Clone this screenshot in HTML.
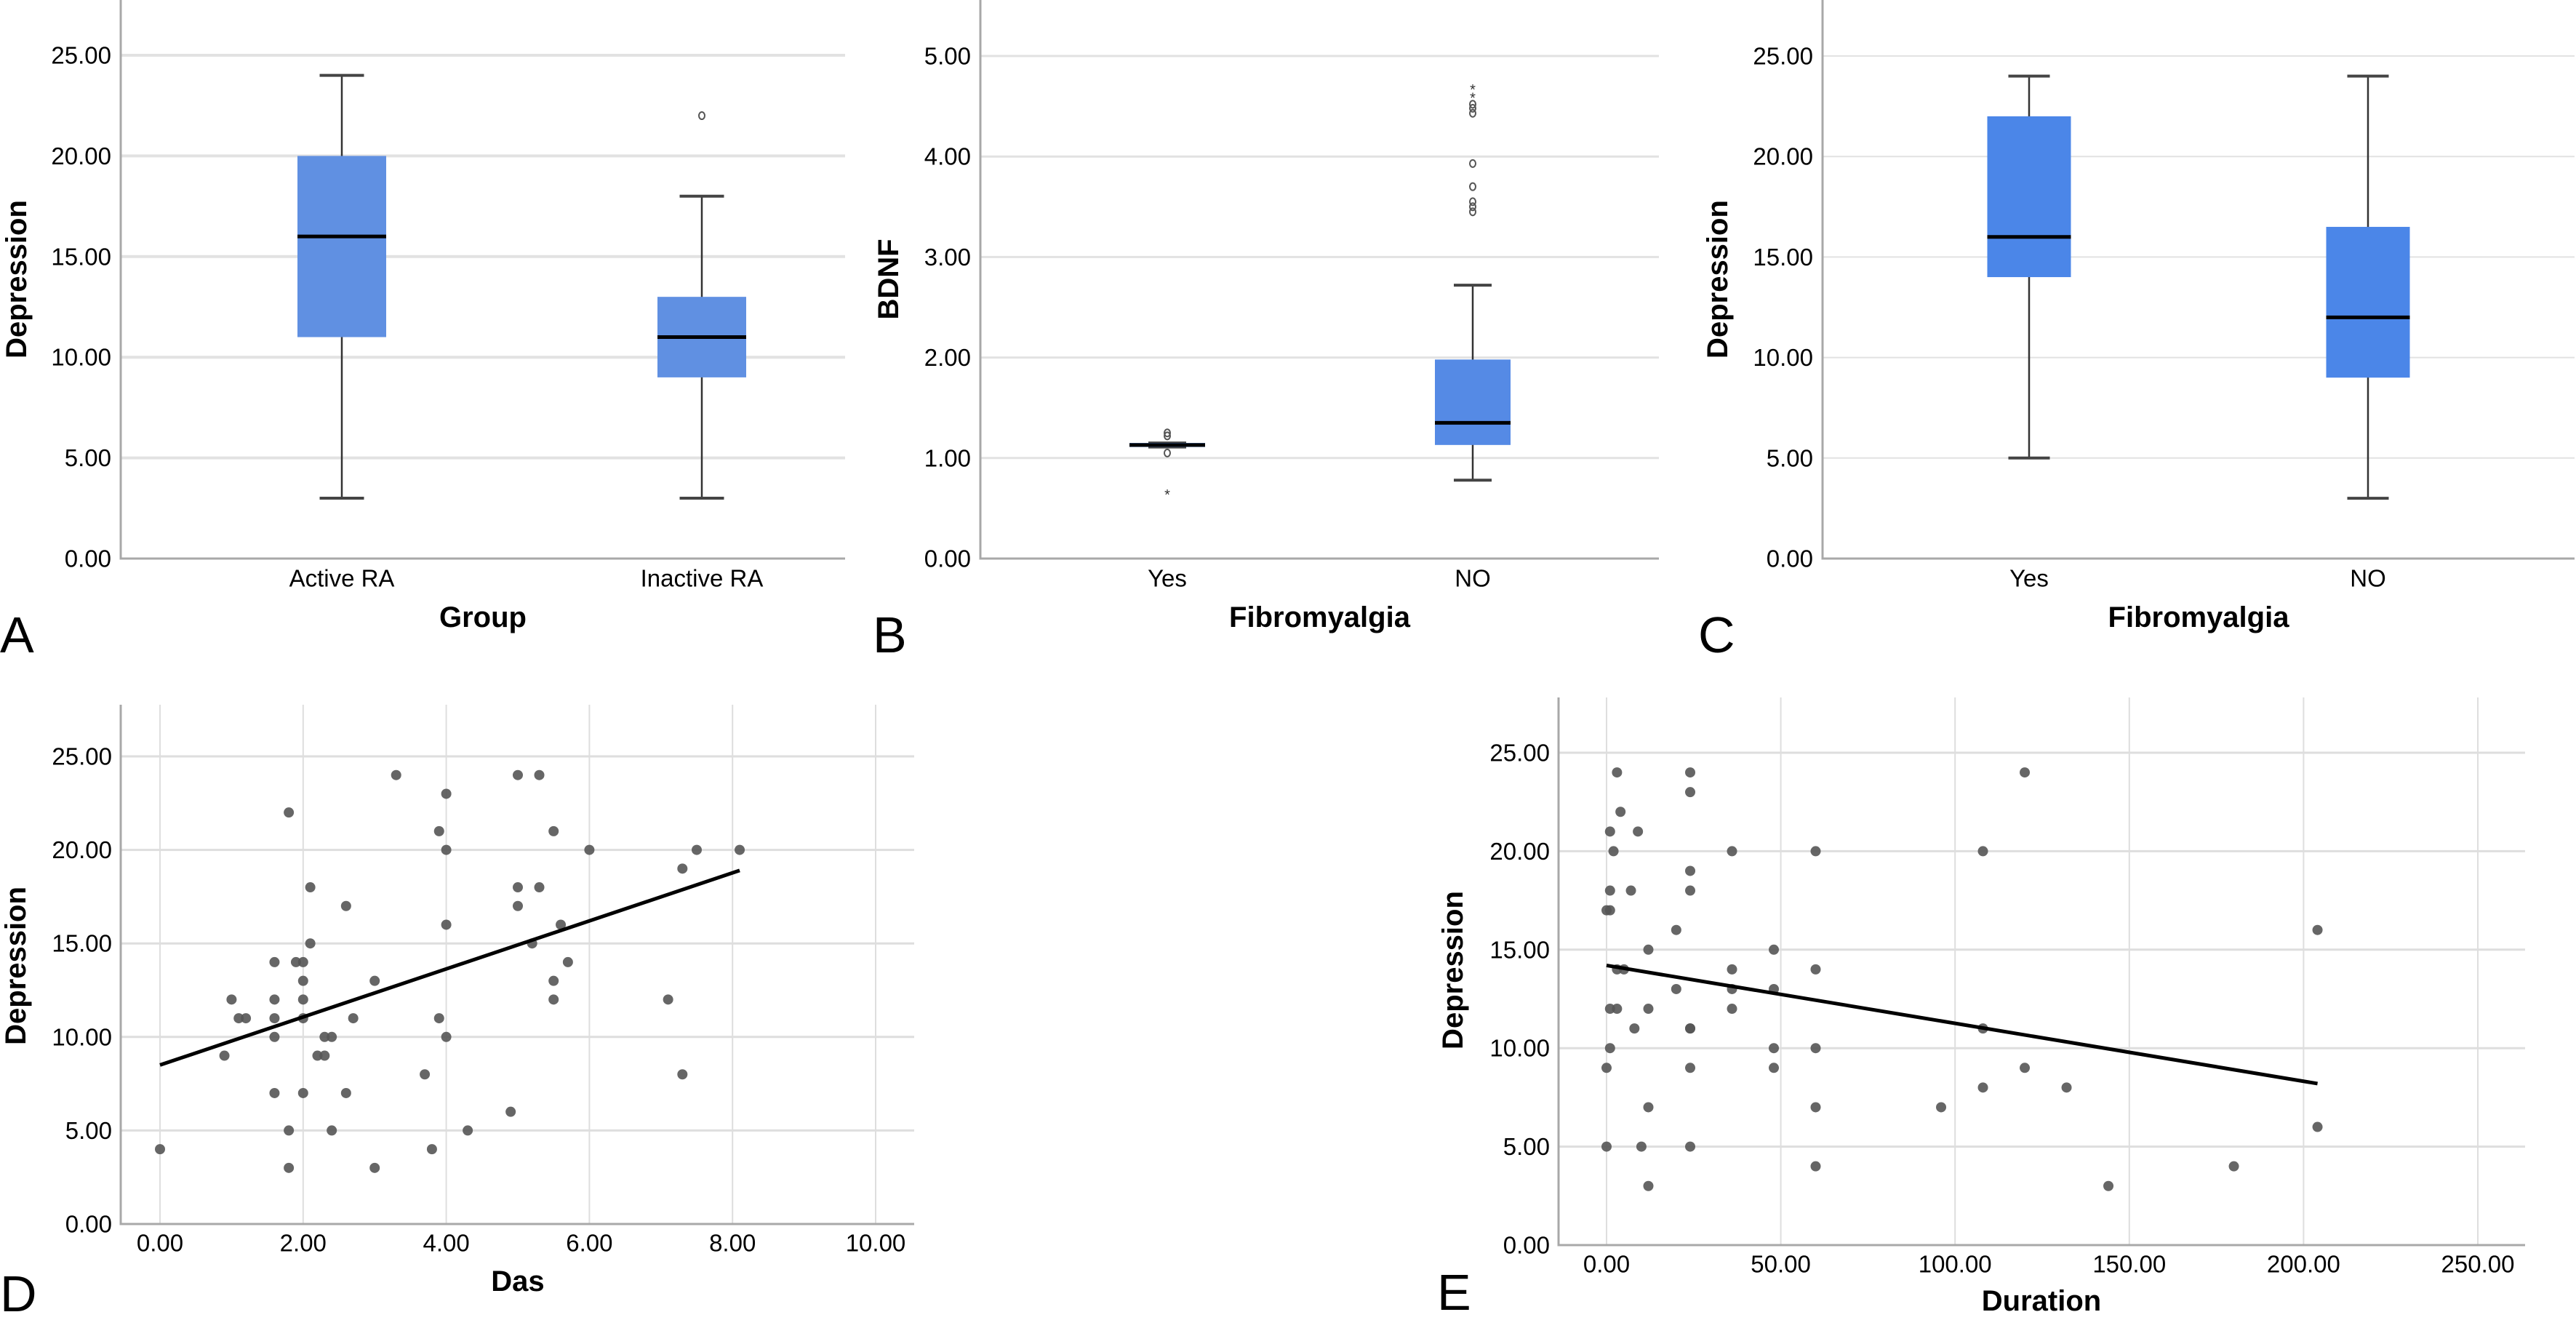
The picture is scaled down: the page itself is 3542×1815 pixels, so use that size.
<!DOCTYPE html>
<html><head><meta charset="utf-8">
<style>
html,body{margin:0;padding:0;background:#fff;}
svg{display:block;font-family:"Liberation Sans",Arial,sans-serif;}
</style></head>
<body>
<svg id="fig" width="3542" height="1815" viewBox="0 0 3542 1815" xmlns="http://www.w3.org/2000/svg"></svg>
<script>
// ---- Panel A data ----
const aCategories = ["Active RA", "Inactive RA"];
const aMin = [3, 3];
const aQ1 = [11, 9];
const aMedian = [16, 11];
const aQ3 = [20, 13];
const aMax = [24, 18];
const aOutliers = [[], [22]];
const aStars = [[], []];
const aTicks = [0, 5, 10, 15, 20, 25];
const aTickLabels = ["0.00", "5.00", "10.00", "15.00", "20.00", "25.00"];

// ---- Panel B data ----
const bCategories = ["Yes", "NO"];
const bMin = [1.11, 0.78];
const bQ1 = [1.11, 1.13];
const bMedian = [1.13, 1.35];
const bQ3 = [1.15, 1.98];
const bMax = [1.15, 2.72];
const bOutliers = [[1.25, 1.22, 1.05], [3.45, 3.5, 3.55, 3.7, 3.93, 4.43, 4.48, 4.52]];
const bStars = [[0.65], [4.6, 4.68]];
const bTicks = [0, 1, 2, 3, 4, 5];
const bTickLabels = ["0.00", "1.00", "2.00", "3.00", "4.00", "5.00"];

// ---- Panel C data ----
const cCategories = ["Yes", "NO"];
const cMin = [5, 3];
const cQ1 = [14, 9];
const cMedian = [16, 12];
const cQ3 = [22, 16.5];
const cMax = [24, 24];
const cOutliers = [[], []];
const cStars = [[], []];
const cTicks = [0, 5, 10, 15, 20, 25];
const cTickLabels = ["0.00", "5.00", "10.00", "15.00", "20.00", "25.00"];

// ---- Panel D data ----
const dDas = [0,0.9,1,1.1,1.2,1.6,1.6,1.6,1.6,1.6,1.8,1.8,1.8,1.9,2,2,2,2,2,2.1,2.1,2.2,2.3,2.3,2.4,2.4,2.6,2.6,2.7,3,3,3.3,3.7,3.8,3.9,3.9,4,4,4,4,4.3,4.9,5,5,5,5.2,5.3,5.3,5.5,5.5,5.5,5.6,5.7,6,7.1,7.3,7.3,7.5,8.1];
const dDepression = [4,9,12,11,11,14,12,11,10,7,22,5,3,14,14,13,12,11,7,18,15,9,9,10,10,5,17,7,11,13,3,24,8,4,21,11,23,20,16,10,5,6,24,18,17,15,24,18,21,13,12,16,14,20,12,19,8,20,20];
const dFitX = [0, 8.1];
const dFitY = [8.5, 18.9];
const dXTicks = [0, 2, 4, 6, 8, 10];
const dXTickLabels = ["0.00", "2.00", "4.00", "6.00", "8.00", "10.00"];
const dYTicks = [0, 5, 10, 15, 20, 25];
const dYTickLabels = ["0.00", "5.00", "10.00", "15.00", "20.00", "25.00"];

// ---- Panel E data ----
const eDuration = [0,1,0,0,1,1,1,1,2,3,3,3,4,5,7,8,9,10,12,12,12,12,20,20,24,24,24,24,24,24,24,24,36,36,36,36,48,48,48,48,60,60,60,60,60,96,108,108,108,120,120,132,144,180,204,204];
const eDepression = [17,17,9,5,21,18,12,10,20,24,14,12,22,14,18,11,21,5,15,12,7,3,16,13,24,23,19,18,11,11,9,5,20,14,13,12,15,13,10,9,20,14,10,7,4,7,20,11,8,24,9,8,3,4,16,6];
const eFitX = [0, 204];
const eFitY = [14.2, 8.2];
const eXTicks = [0, 50, 100, 150, 200, 250];
const eXTickLabels = ["0.00", "50.00", "100.00", "150.00", "200.00", "250.00"];
const eYTicks = [0, 5, 10, 15, 20, 25];
const eYTickLabels = ["0.00", "5.00", "10.00", "15.00", "20.00", "25.00"];

const NS = "http://www.w3.org/2000/svg";
const svg = document.getElementById("fig");
function mk(tag, attrs, parent, text) {
  const e = document.createElementNS(NS, tag);
  for (const k in attrs) e.setAttribute(k, attrs[k]);
  if (text !== undefined) e.textContent = text;
  (parent || svg).appendChild(e);
  return e;
}
function lin(d0, d1, r0, r1) { return v => r0 + (v - d0) * (r1 - r0) / (d1 - d0); }

function yAxisTitle(g, x, y, txt) {
  const t = mk("text", {x: x, y: y, transform: `rotate(-90 ${x} ${y})`, "text-anchor": "middle", "dominant-baseline": "central", "font-size": 40, "font-weight": "bold", fill: "#000"}, g, txt);
  
  
}
function xAxisTitle(g, x, y, txt) {
  const t = mk("text", {x: x, y: y, "text-anchor": "middle", "dominant-baseline": "central", "font-size": 40, "font-weight": "bold", fill: "#000"}, g, txt);
  
  
}
function panelLetter(x, y, txt) {
  const t = mk("text", {x: x, y: y, "font-size": 70, fill: "#000"}, svg, txt);
  
  
}

function boxPanel(cfg) {
  const g = mk("g", {});
  
  
  const y = lin(0, cfg.yMax, cfg.y0, cfg.yTop);
  // gridlines & tick labels
  cfg.ticks.forEach((t, i) => {
    if (t !== 0) {
      const l = mk("line", {x1: cfg.axisX, x2: cfg.right, y1: y(t), y2: y(t), stroke: "#e2e2e2", "stroke-width": cfg.gridW}, g);
      
      
    }
    const lb = mk("text", {x: cfg.axisX - 13, y: y(t), "text-anchor": "end", "dominant-baseline": "central", "font-size": 33, fill: "#000"}, g, cfg.tickLabels[i]);
    
    
  });
  const ax = mk("polyline", {points: `${cfg.axisX},0 ${cfg.axisX},${cfg.y0} ${cfg.right},${cfg.y0}`, fill: "none", stroke: "#a8a8a8", "stroke-width": 3}, g);
  
  
  cfg.cats.forEach((c, i) => {
    const cx = cfg.c0 + i * cfg.step;
    const bw = cfg.boxW[i], cw = cfg.capW;
    const wh = mk("line", {x1: cx, x2: cx, y1: y(cfg.max[i]), y2: y(cfg.min[i]), stroke: "#333", "stroke-width": 2.5}, g);
    
    
    [cfg.max[i], cfg.min[i]].forEach(v => {
      const cp = mk("line", {x1: cx - cw / 2, x2: cx + cw / 2, y1: y(v), y2: y(v), stroke: "#444", "stroke-width": 4}, g);
      
      
    });
    const h = Math.max(y(cfg.q1[i]) - y(cfg.q3[i]), 3);
    const bx = mk("rect", {x: cx - bw / 2, y: y(cfg.q3[i]) - (h <= 3 ? 1.5 : 0), width: bw, height: h, fill: cfg.color}, g);
    
    
    const md = mk("line", {x1: cx - bw / 2, x2: cx + bw / 2, y1: y(cfg.med[i]), y2: y(cfg.med[i]), stroke: "#000", "stroke-width": 5}, g);
    
    
    cfg.out[i].forEach(v => {
      const o = mk("ellipse", {cx: cx, cy: y(v), rx: 4, ry: 5, fill: "none", stroke: "#555", "stroke-width": 2}, g);
      
      
    });
    cfg.stars[i].forEach(v => {
      const s = mk("text", {x: cx, y: y(v) + 9, "text-anchor": "middle", "font-size": 20, fill: "#333"}, g, "*");
      
      
    });
    const cl = mk("text", {x: cx, y: 795, "text-anchor": "middle", "dominant-baseline": "central", "font-size": 33, fill: "#000"}, g, c);
    
    
  });
  yAxisTitle(g, cfg.yTitleX, 384, cfg.yTitle);
  xAxisTitle(g, (cfg.axisX + cfg.right) / 2, 849, cfg.xTitle);
}

function scatterPanel(cfg) {
  const g = mk("g", {});
  
  
  const x = lin(cfg.xTicks[0], cfg.xTicks[cfg.xTicks.length - 1], cfg.x0, cfg.x1);
  const y = lin(0, 25, cfg.y0, cfg.y25);
  cfg.xTicks.forEach((t, i) => {
    const l = mk("line", {x1: x(t), x2: x(t), y1: cfg.top, y2: cfg.y0, stroke: "#dedede", "stroke-width": 2}, g);
    
    
    const lb = mk("text", {x: x(t), y: cfg.y0 + 26, "text-anchor": "middle", "dominant-baseline": "central", "font-size": 33, fill: "#000"}, g, cfg.xTickLabels[i]);
    
    
  });
  cfg.yTicks.forEach((t, i) => {
    if (t !== 0) {
      const l = mk("line", {x1: cfg.axisX, x2: cfg.right, y1: y(t), y2: y(t), stroke: "#dedede", "stroke-width": 3}, g);
      
      
    }
    const lb = mk("text", {x: cfg.axisX - 12, y: y(t), "text-anchor": "end", "dominant-baseline": "central", "font-size": 33, fill: "#000"}, g, cfg.yTickLabels[i]);
    
    
  });
  const ax = mk("polyline", {points: `${cfg.axisX},${cfg.top} ${cfg.axisX},${cfg.y0} ${cfg.right},${cfg.y0}`, fill: "none", stroke: "#a8a8a8", "stroke-width": 3}, g);
  
  
  cfg.xs.forEach((v, i) => {
    const p = mk("circle", {cx: x(v), cy: y(cfg.ys[i]), r: 7, fill: "#555", "fill-opacity": 0.9}, g);
    
    
  });
  const fl = mk("line", {x1: x(cfg.fitX[0]), y1: y(cfg.fitY[0]), x2: x(cfg.fitX[1]), y2: y(cfg.fitY[1]), stroke: "#000", "stroke-width": 5}, g);
  
  
  yAxisTitle(g, cfg.yTitleX, cfg.yTitleY, "Depression");
  xAxisTitle(g, cfg.xTitleX, cfg.xTitleY, cfg.xTitle);
}

boxPanel({name: "panel-a-boxplot", cats: aCategories, min: aMin, q1: aQ1, med: aMedian, q3: aQ3, max: aMax, out: aOutliers, stars: aStars,
  ticks: aTicks, tickLabels: aTickLabels, yMax: 25, y0: 768, yTop: 76, axisX: 166, right: 1162, c0: 470, step: 495,
  boxW: [122, 122], capW: 61, color: "#6090e2", gridW: 4, yTitleX: 23, yTitle: "Depression", xTitle: "Group"});
boxPanel({name: "panel-b-boxplot", cats: bCategories, min: bMin, q1: bQ1, med: bMedian, q3: bQ3, max: bMax, out: bOutliers, stars: bStars,
  ticks: bTicks, tickLabels: bTickLabels, yMax: 5, y0: 768, yTop: 77, axisX: 1348, right: 2281, c0: 1605, step: 420,
  boxW: [104, 104], capW: 52, color: "#558ae5", gridW: 3, yTitleX: 1222, yTitle: "BDNF", xTitle: "Fibromyalgia"});
boxPanel({name: "panel-c-boxplot", cats: cCategories, min: cMin, q1: cQ1, med: cMedian, q3: cQ3, max: cMax, out: cOutliers, stars: cStars,
  ticks: cTicks, tickLabels: cTickLabels, yMax: 25, y0: 768, yTop: 77, axisX: 2506, right: 3540, c0: 2790, step: 466,
  boxW: [115, 115], capW: 57, color: "#4b86e8", gridW: 2, yTitleX: 2362, yTitle: "Depression", xTitle: "Fibromyalgia"});

scatterPanel({name: "panel-d-scatter", xs: dDas, ys: dDepression, fitX: dFitX, fitY: dFitY,
  xTicks: dXTicks, xTickLabels: dXTickLabels, yTicks: dYTicks, yTickLabels: dYTickLabels,
  x0: 220, x1: 1204, y0: 1683, y25: 1040, axisX: 166, right: 1257, top: 969,
  yTitleX: 22, yTitleY: 1328, xTitleX: 712, xTitleY: 1762, xTitle: "Das"});
scatterPanel({name: "panel-e-scatter", xs: eDuration, ys: eDepression, fitX: eFitX, fitY: eFitY,
  xTicks: eXTicks, xTickLabels: eXTickLabels, yTicks: eYTicks, yTickLabels: eYTickLabels,
  x0: 2209, x1: 3407, y0: 1712, y25: 1035, axisX: 2143, right: 3472, top: 959,
  yTitleX: 1998, yTitleY: 1334, xTitleX: 2807, xTitleY: 1789, xTitle: "Duration"});

panelLetter(0, 897, "A");
panelLetter(1200, 897, "B");
panelLetter(2335, 897, "C");
panelLetter(0, 1803, "D");
panelLetter(1976, 1801, "E");
</script>
</body></html>
